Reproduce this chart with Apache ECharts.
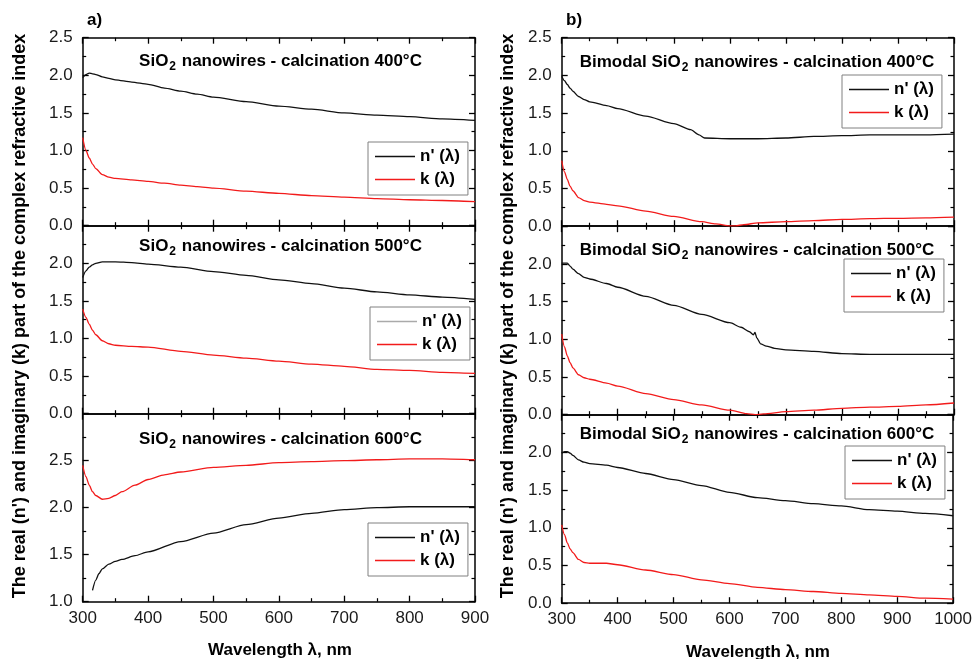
<!DOCTYPE html>
<html><head><meta charset="utf-8">
<script src="https://cdn.jsdelivr.net/npm/echarts/dist/echarts.min.js"></script>
<style>html,body{margin:0;padding:0;background:#fff}#c{width:975px;height:659px}</style>
</head><body><div id="c"></div>
<script>
// ---------- data ----------
// a) SiO2 nanowires, 400 °C
const wl_a400 = [300,305,310,315,320,330,340,350,375,400,425,450,475,500,550,600,650,700,750,800,850,900];
const n_a400  = [1.97,2.01,2.03,2.02,2.01,1.98,1.96,1.94,1.91,1.88,1.83,1.79,1.75,1.71,1.65,1.59,1.55,1.50,1.47,1.45,1.42,1.40];
const k_a400  = [1.17,1.00,0.90,0.82,0.76,0.68,0.645,0.63,0.61,0.59,0.565,0.54,0.52,0.50,0.46,0.43,0.40,0.38,0.36,0.345,0.335,0.32];
// a) 500 °C
const wl_a500 = [300,305,310,315,320,330,340,350,375,400,450,500,550,600,650,700,750,800,850,900];
const n_a500  = [1.81,1.90,1.95,1.98,2.00,2.02,2.02,2.02,2.01,1.99,1.95,1.89,1.84,1.78,1.73,1.67,1.62,1.58,1.55,1.52];
const k_a500  = [1.39,1.28,1.19,1.11,1.05,0.97,0.93,0.91,0.895,0.885,0.83,0.78,0.74,0.70,0.66,0.63,0.59,0.575,0.55,0.535];
// a) 600 °C
const wl_a600k = [300,305,310,315,320,330,340,350,360,380,400,425,450,500,550,600,650,700,750,800,850,900];
const k_a600   = [2.45,2.33,2.24,2.17,2.13,2.09,2.10,2.13,2.17,2.24,2.30,2.35,2.38,2.43,2.45,2.48,2.49,2.50,2.51,2.52,2.52,2.51];
const wl_a600n = [315,320,325,330,340,350,360,380,400,450,500,550,600,650,700,750,800,850,900];
const n_a600   = [1.12,1.23,1.30,1.35,1.40,1.43,1.45,1.49,1.53,1.64,1.73,1.82,1.89,1.94,1.98,2.00,2.01,2.01,2.01];
// b) Bimodal, 400 °C
const wl_b400n = [300,305,310,315,320,330,340,350,380,400,450,500,530,545,555,600,650,700,750,800,850,900,950,1000];
const n_b400   = [1.99,1.93,1.88,1.83,1.79,1.72,1.68,1.65,1.60,1.56,1.46,1.36,1.28,1.21,1.17,1.16,1.16,1.17,1.19,1.20,1.21,1.21,1.21,1.22];
const wl_b400k = [300,305,310,315,320,330,340,350,380,400,450,500,550,575,600,610,625,650,700,750,800,850,900,950,1000];
const k_b400   = [0.87,0.72,0.62,0.53,0.47,0.38,0.34,0.32,0.29,0.27,0.20,0.13,0.06,0.03,0.005,0.005,0.02,0.045,0.06,0.075,0.09,0.10,0.105,0.11,0.12];
// b) 500 °C
const wl_b500n = [300,310,315,320,330,340,350,380,400,450,500,550,600,620,635,642,645,648,655,665,680,700,750,800,850,900,950,1000];
const n_b500   = [2.01,2.01,1.97,1.93,1.87,1.82,1.80,1.74,1.69,1.57,1.45,1.33,1.22,1.16,1.10,1.06,1.09,1.02,0.94,0.91,0.88,0.86,0.84,0.81,0.80,0.80,0.80,0.80];
const wl_b500k = [300,305,310,315,320,330,340,350,380,400,450,500,550,600,630,645,660,700,750,800,850,900,950,1000];
const k_b500   = [1.07,0.90,0.78,0.69,0.62,0.53,0.49,0.47,0.42,0.38,0.28,0.20,0.13,0.06,0.013,0.0,0.01,0.04,0.06,0.085,0.10,0.11,0.13,0.155];
// b) 600 °C
const wl_b600 = [300,305,310,315,320,330,340,350,380,400,450,500,550,600,650,700,750,800,850,900,950,1000];
const n_b600  = [1.99,2.01,2.01,1.99,1.96,1.90,1.87,1.85,1.83,1.80,1.72,1.64,1.56,1.47,1.40,1.36,1.32,1.29,1.24,1.22,1.19,1.16];
const k_b600  = [1.04,0.91,0.80,0.72,0.67,0.58,0.54,0.53,0.53,0.51,0.44,0.38,0.31,0.26,0.21,0.18,0.155,0.13,0.11,0.09,0.067,0.053];

const seriesNames = ["n' (\u03bb)", "k (\u03bb)"];
const titlesA = ['400°C','500°C','600°C'];
const xTitle = 'Wavelength \u03bb, nm';
const yTitle = "The real (n') and imaginary (k) part of the complex refractive index";

// ---------- layout ----------
const FONT = 'Liberation Sans, Arial, Helvetica, sans-serif';
const zip = (xs, ys) => xs.map((x, i) => [x, ys[i]]);

const panels = [
  {grid:{left:82.7, top:37.7, width:392.3, height:188}, xmax:900, ymin:0, ymax:2.5, bottom:false, hideMax:false,
   n:zip(wl_a400,n_a400), k:zip(wl_a400,k_a400), title:'{m|SiO}{s|2}{m| nanowires - calcination '+titlesA[0]+'}', tx:280.5, ty:52.5, lg:{left:368, top:142}},
  {grid:{left:82.7, top:225.7, width:392.3, height:188}, xmax:900, ymin:0, ymax:2.5, bottom:false, hideMax:true,
   n:zip(wl_a500,n_a500), k:zip(wl_a500,k_a500), title:'{m|SiO}{s|2}{m| nanowires - calcination '+titlesA[1]+'}', tx:280.5, ty:237.5, lg:{left:370, top:307}, grayN:true},
  {grid:{left:82.7, top:413.7, width:392.3, height:188}, xmax:900, ymin:1, ymax:3, bottom:true, hideMax:true,
   n:zip(wl_a600n,n_a600), k:zip(wl_a600k,k_a600), title:'{m|SiO}{s|2}{m| nanowires - calcination '+titlesA[2]+'}', tx:280.5, ty:431, lg:{left:368, top:523}},
  {grid:{left:561.7, top:37.7, width:392.3, height:188.5}, xmax:1000, ymin:0, ymax:2.5, bottom:false, hideMax:false,
   n:zip(wl_b400n,n_b400), k:zip(wl_b400k,k_b400), title:'{m|Bimodal SiO}{s|2}{m| nanowires - calcination '+titlesA[0]+'}', tx:757, ty:53.5, lg:{left:842, top:75}},
  {grid:{left:561.7, top:226.2, width:392.3, height:188.5}, xmax:1000, ymin:0, ymax:2.5, bottom:false, hideMax:true,
   n:zip(wl_b500n,n_b500), k:zip(wl_b500k,k_b500), title:'{m|Bimodal SiO}{s|2}{m| nanowires - calcination '+titlesA[1]+'}', tx:757, ty:242, lg:{left:844, top:259}},
  {grid:{left:561.7, top:414.7, width:392.3, height:188.5}, xmax:1000, ymin:0, ymax:2.5, bottom:true, hideMax:true,
   n:zip(wl_b600,n_b600), k:zip(wl_b600,k_b600), title:'{m|Bimodal SiO}{s|2}{m| nanowires - calcination '+titlesA[2]+'}', tx:757, ty:426, lg:{left:845, top:446}}
];

const axisLine = {show:true, onZero:false, lineStyle:{color:'#000', width:1.5}};
const axisTick = {show:true, inside:true, length:6, lineStyle:{color:'#000', width:1.3}};
const minorTick = {show:true, splitNumber:2, length:3.5, lineStyle:{color:'#000', width:1.2}};

const grid = [], xAxis = [], yAxis = [], series = [], title = [], legend = [];
panels.forEach((p, i) => {
  grid.push(Object.assign({containLabel:false}, p.grid));
  ['bottom','top'].forEach(pos => {
    xAxis.push({type:'value', gridIndex:i, position:pos, min:300, max:p.xmax, interval:100,
      axisLine, axisTick, minorTick, splitLine:{show:false},
      axisLabel:{show: pos==='bottom' && p.bottom, fontSize:17, color:'#1a1a1a', fontFamily:FONT, margin:8,
        formatter: v => String(v)}});
  });
  ['left','right'].forEach(pos => {
    yAxis.push({type:'value', gridIndex:i, position:pos, min:p.ymin, max:p.ymax, interval:0.5,
      axisLine, axisTick, minorTick, splitLine:{show:false},
      axisLabel:{show: pos==='left', showMaxLabel: !p.hideMax, fontSize:17, color:'#1a1a1a', fontFamily:FONT, margin:10,
        formatter: v => v.toFixed(1)}});
  });
  series.push({type:'line', name:seriesNames[0], xAxisIndex:2*i, yAxisIndex:2*i, data:p.n, showSymbol:false, symbol:'none',
    smooth:0.25, smoothMonotone:'x', lineStyle:{color:'#111', width:1.3}, itemStyle:{color:'#111'}, z:3});
  series.push({type:'line', name:seriesNames[1], xAxisIndex:2*i, yAxisIndex:2*i, data:p.k, showSymbol:false, symbol:'none',
    smooth:0.25, smoothMonotone:'x', lineStyle:{color:'#f21b1b', width:1.3}, itemStyle:{color:'#f21b1b'}, z:3});
  title.push({text:p.title, left:p.tx, top:p.ty, textAlign:'center', padding:0,
    textStyle:{rich:{
      m:{fontSize:17, fontWeight:'bold', fontFamily:FONT, color:'#000', lineHeight:20, verticalAlign:'top'},
      s:{fontSize:12, fontWeight:'bold', fontFamily:FONT, color:'#000', lineHeight:13, padding:[12,1,0,1], verticalAlign:'bottom'}
    }}});
  legend.push({show:true, orient:'vertical', left:p.lg.left, top:p.lg.top, icon:'rect', itemWidth:40, itemHeight:1.5,
    itemGap:6, padding:[6,8,7,7], borderColor:'#808080', borderWidth:1, backgroundColor:'#fff', selectedMode:false,
    data:[p.grayN ? {name:seriesNames[0], itemStyle:{color:'#aaaaaa'}} : {name:seriesNames[0]}, {name:seriesNames[1]}],
    textStyle:{fontSize:17, fontWeight:'bold', fontFamily:FONT, color:'#000', lineHeight:17}});
});

const graphic = [
  {type:'text', left:87, top:12, style:{text:'a)', font:'bold 17px '+FONT, fill:'#000'}},
  {type:'text', left:566, top:12, style:{text:'b)', font:'bold 17px '+FONT, fill:'#000'}},
  {type:'text', x:280, y:650, style:{text:xTitle, font:'bold 17px '+FONT, fill:'#000', align:'center', verticalAlign:'middle'}},
  {type:'text', x:758, y:652, style:{text:xTitle, font:'bold 17px '+FONT, fill:'#000', align:'center', verticalAlign:'middle'}},
  {type:'text', x:20, y:316, rotation:Math.PI/2, style:{text:yTitle, font:'bold 18px '+FONT, fill:'#000', align:'center', verticalAlign:'middle'}},
  {type:'text', x:508, y:316, rotation:Math.PI/2, style:{text:yTitle, font:'bold 18px '+FONT, fill:'#000', align:'center', verticalAlign:'middle'}}
];

const chart = echarts.init(document.getElementById('c'), null, {renderer:'canvas'});
chart.setOption({animation:false, backgroundColor:'#fff', grid, xAxis, yAxis, series, title, legend, graphic});
</script></body></html>
